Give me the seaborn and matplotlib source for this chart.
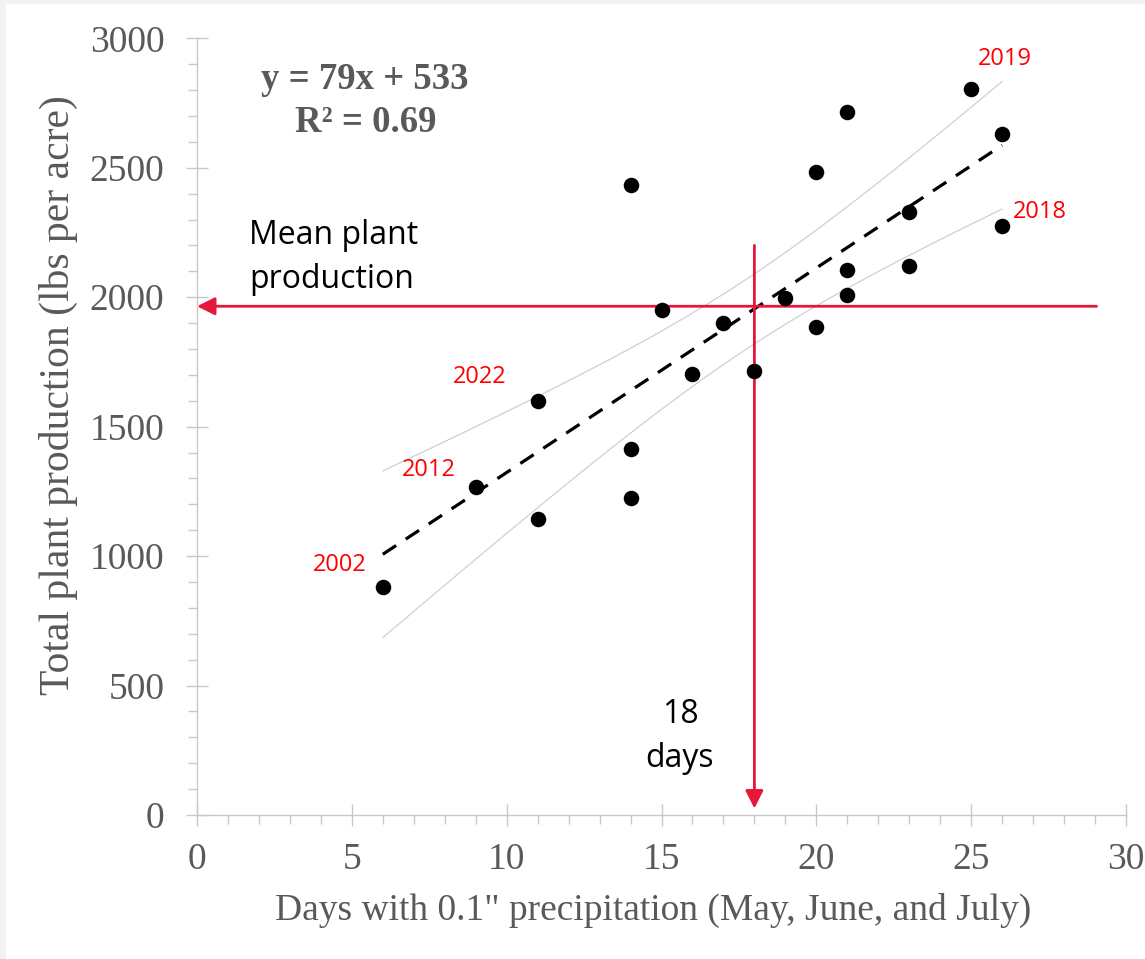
import numpy as np
import matplotlib
matplotlib.use("Agg")
import matplotlib.pyplot as plt
from matplotlib.patches import Rectangle
from matplotlib.ticker import MultipleLocator
import seaborn as sns

# Days with at least 0.1" of rain (May-July) and total plant production per year
days = [6, 9, 11, 11, 14, 14, 14, 15, 16, 17, 18, 19, 20, 20, 21, 21, 21, 23, 23, 25, 26, 26]
production = [880, 1265, 1145, 1600, 2435, 1415, 1225, 1950, 1705, 1900, 1715,
              1995, 2485, 1885, 2715, 2105, 2010, 2330, 2120, 2805, 2630, 2275]

# Linear trend reported on the chart
slope = 79
intercept = 533
r_squared = 0.69

# Reference values for the guide lines
mean_production = 1965
threshold_days = 18

# Highlighted years and the observation each one belongs to
year_names = ["2002", "2012", "2022", "2019", "2018"]
year_days = [6, 9, 11, 25, 26]
year_production = [880, 1265, 1600, 2805, 2275]

W, H = 1145, 959
RED = "#e5173b"
GRAY_TXT = "#595959"
AXIS_GRAY = "#c8c8c8"
SERIF = "Liberation Serif"
SANS = ["Open Sans", "DejaVu Sans"]

sns.set_theme(style="white")
plt.rcParams["font.family"] = [SERIF, "DejaVu Serif"]

fig = plt.figure(figsize=(W / 100, H / 100), dpi=100)
fig.patch.set_facecolor("white")
# thin grey frame along the top and left edges
fig.add_artist(Rectangle((0, 0), 6 / W, 1, transform=fig.transFigure,
                         facecolor="#f2f2f2", edgecolor="none", zorder=-5))
fig.add_artist(Rectangle((0, 1 - 4 / H), 1, 4 / H, transform=fig.transFigure,
                         facecolor="#f2f2f2", edgecolor="none", zorder=-5))


def fx(px):
    return px / W


def fy(py):
    return 1 - py / H


ax = fig.add_axes([fx(197), fy(815), (1126 - 197) / W, (815 - 38.3) / H])
ax.set_facecolor("none")

# 95% confidence band of the fitted line
x_arr = np.asarray(days, dtype=float)
y_arr = np.asarray(production, dtype=float)
n = len(x_arr)
resid = y_arr - (slope * x_arr + intercept)
s_err = np.sqrt(np.sum(resid ** 2) / (n - 2))
x_mean = x_arr.mean()
sxx = np.sum((x_arr - x_mean) ** 2)
t_crit = 2.086
x_band = np.linspace(min(days), max(days), 100)
y_band = slope * x_band + intercept
half = t_crit * s_err * np.sqrt(1 / n + (x_band - x_mean) ** 2 / sxx)

sns.lineplot(x=x_band, y=y_band + half, ax=ax, color="#d0d0d0", lw=0.9, zorder=2)
sns.lineplot(x=x_band, y=y_band - half, ax=ax, color="#d0d0d0", lw=0.9, zorder=2)

# dashed trend line
x_fit = np.array([min(days), max(days)], dtype=float)
sns.lineplot(x=x_fit, y=slope * x_fit + intercept, ax=ax, color="black",
             lw=2.3, linestyle=(0, (5, 3.6)), zorder=3)

# observations
sns.scatterplot(x=days, y=production, ax=ax, color="black", s=125,
                linewidth=0, zorder=6)

ax.set_xlim(0, 30)
ax.set_ylim(0, 3000)
ax.xaxis.set_major_locator(MultipleLocator(5))
ax.xaxis.set_minor_locator(MultipleLocator(1))
ax.yaxis.set_major_locator(MultipleLocator(500))
ax.yaxis.set_minor_locator(MultipleLocator(100))
ax.tick_params(which="both", bottom=True, left=True, top=False, right=False,
               color=AXIS_GRAY, width=1)
ax.tick_params(which="major", direction="inout", length=16,
               labelsize=27, labelcolor=GRAY_TXT)
ax.tick_params(axis="y", which="major", pad=15.5)
ax.tick_params(axis="x", which="major", pad=12)
ax.tick_params(which="minor", direction="out", length=6.5)
for side in ("top", "right"):
    ax.spines[side].set_visible(False)
for side in ("left", "bottom"):
    ax.spines[side].set_color(AXIS_GRAY)
    ax.spines[side].set_linewidth(1)
ax.set_xlabel("")
ax.set_ylabel("")

# guide arrows: mean production and the day threshold
arrow = dict(arrowstyle="-|>,head_length=0.4,head_width=0.2", color=RED,
             lw=2.0, mutation_scale=27, shrinkA=0, shrinkB=0)
ax.annotate("", xy=(0, mean_production), xytext=(29.05, mean_production),
            arrowprops=arrow, annotation_clip=False, zorder=4)
ax.annotate("", xy=(threshold_days, 25), xytext=(threshold_days, 2200),
            arrowprops=arrow, annotation_clip=False, zorder=4)

# year labels next to their observations (offsets in points)
offsets = [(-31, 12), (-34, 8), (-42, 13), (24, 17), (27, 6)]
for name, xd, yd, (dx, dy) in zip(year_names, year_days, year_production, offsets):
    ax.annotate(name, xy=(xd, yd), xytext=(dx, dy), textcoords="offset points",
                ha="center", va="baseline", color="#ff0000", fontsize=17,
                family=SANS, zorder=7)

# regression equation
fig.text(fx(365), fy(89), f"y = {slope}x + {intercept}", ha="center", va="baseline",
         fontsize=26.5, fontweight="bold", color=GRAY_TXT)
fig.text(fx(366), fy(132), f"R\u00b2 = {r_squared:.2f}", ha="center", va="baseline",
         fontsize=26.5, fontweight="bold", color=GRAY_TXT)

# annotations for the guide lines
note = dict(fontsize=23, color="black", family=SANS, va="baseline")
fig.text(fx(249), fy(244), "Mean plant", ha="left", **note)
fig.text(fx(249), fy(288), "production", ha="left", **note)
fig.text(fx(680), fy(723), f"{threshold_days}", ha="center", **note)
fig.text(fx(680), fy(767), "days", ha="center", **note)

# axis titles
fig.text(fx(653), fy(910), "Days with 0.1\" precipitation (May, June, and July)",
         ha="center", va="center", fontsize=27, color=GRAY_TXT)
fig.text(fx(58), fy(395), "Total plant production (lbs per acre)", ha="center",
         va="center", rotation=90, fontsize=30, color=GRAY_TXT)

fig.savefig("out.png", dpi=100, facecolor=fig.get_facecolor())
